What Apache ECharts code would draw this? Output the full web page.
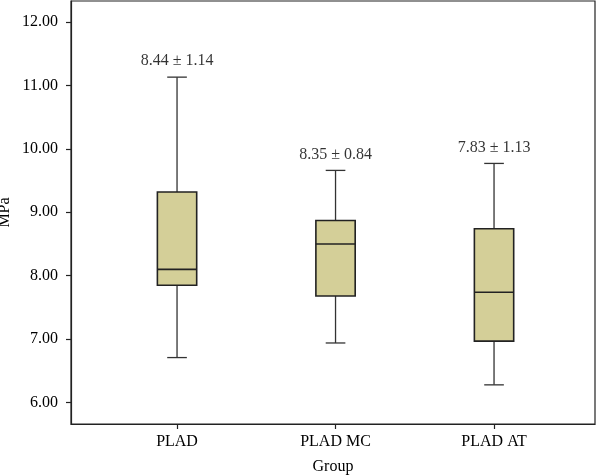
<!DOCTYPE html>
<html><head><meta charset="utf-8">
<script src="https://cdn.jsdelivr.net/npm/echarts@6/dist/echarts.min.js"></script>
<style>html,body{margin:0;padding:0;background:#fff}#c{width:600px;height:475px}</style>
</head><body><div id="c"></div>
<script>
const categories = ['PLAD', 'PLAD MC', 'PLAD AT'];
const whiskerLow = [6.71, 6.94, 6.28];
const q1 = [7.85, 7.68, 6.97];
const median = [8.10, 8.50, 7.74];
const q3 = [9.32, 8.87, 8.74];
const whiskerHigh = [11.13, 9.66, 9.77];
const annotations = ['8.44 \u00b1 1.14', '8.35 \u00b1 0.84', '7.83 \u00b1 1.13'];
const yTicks = [6, 7, 8, 9, 10, 11, 12];

const FONT = '"Liberation Serif", "DejaVu Serif", serif';
const boxData = categories.map((c, i) => [i + 1, whiskerLow[i], q1[i], median[i], q3[i], whiskerHigh[i]]);
const annData = categories.map((c, i) => [i + 1, whiskerHigh[i]]);

const chart = echarts.init(document.getElementById('c'), null, {renderer: 'canvas'});
chart.setOption({
  animation: false,
  backgroundColor: '#fff',
  grid: {left: 71, right: 5, top: 1, bottom: 51, containLabel: false, outerBoundsMode: 'none', show: true, borderColor: '#222', borderWidth: 1.2, backgroundColor: 'transparent'},
  xAxis: {
    type: 'value', min: 0.331, max: 3.637,
    splitLine: {show: false},
    axisLine: {show: true, lineStyle: {color: '#222', width: 1.2}},
    axisTick: {show: true, customValues: [1, 2, 3], length: 5, lineStyle: {color: '#222', width: 1.2}},
    axisLabel: {customValues: [1, 2, 3], formatter: v => categories[Math.round(v) - 1], fontFamily: FONT, fontSize: 16, color: '#000', margin: 10},
    name: 'Group', nameLocation: 'middle', nameGap: 35, nameMoveOverlap: false,
    nameTextStyle: {fontFamily: FONT, fontSize: 16, color: '#000'}
  },
  yAxis: {
    type: 'value', min: 5.663, max: 12.33,
    splitLine: {show: false},
    axisLine: {show: true, lineStyle: {color: '#222', width: 1.2}},
    axisTick: {show: true, customValues: yTicks, length: 5, lineStyle: {color: '#222', width: 1.2}},
    axisLabel: {customValues: yTicks, formatter: v => v.toFixed(2), fontFamily: FONT, fontSize: 16, color: '#000', margin: 13},
    name: 'MPa', nameLocation: 'middle', nameGap: 58, nameRotate: 90, nameMoveOverlap: false,
    nameTextStyle: {fontFamily: FONT, fontSize: 16, color: '#000'}
  },
  series: [{
    type: 'custom',
    data: boxData,
    encode: {x: 0, y: [1, 2, 3, 4, 5]},
    renderItem: function (params, api) {
      const x = api.value(0);
      const pLow = api.coord([x, api.value(1)]);
      const pQ1 = api.coord([x, api.value(2)]);
      const pMed = api.coord([x, api.value(3)]);
      const pQ3 = api.coord([x, api.value(4)]);
      const pHigh = api.coord([x, api.value(5)]);
      const unit = api.size([1, 0])[0];
      const bw = unit * 0.248;
      const cw = bw * 0.5;
      const cx = pMed[0];
      const wStyle = {stroke: '#333', lineWidth: 1.3};
      const bStyle = {stroke: '#222', lineWidth: 1.6};
      return {type: 'group', children: [
        {type: 'line', shape: {x1: cx, y1: pQ3[1], x2: cx, y2: pHigh[1]}, style: wStyle},
        {type: 'line', shape: {x1: cx, y1: pQ1[1], x2: cx, y2: pLow[1]}, style: wStyle},
        {type: 'line', shape: {x1: cx - cw / 2, y1: pHigh[1], x2: cx + cw / 2, y2: pHigh[1]}, style: wStyle},
        {type: 'line', shape: {x1: cx - cw / 2, y1: pLow[1], x2: cx + cw / 2, y2: pLow[1]}, style: wStyle},
        {type: 'rect', shape: {x: cx - bw / 2, y: pQ3[1], width: bw, height: pQ1[1] - pQ3[1]}, style: {fill: '#D4CF98', stroke: '#222', lineWidth: 1.6}},
        {type: 'line', shape: {x1: cx - bw / 2, y1: pMed[1], x2: cx + bw / 2, y2: pMed[1]}, style: bStyle}
      ]};
    }
  }, {
    type: 'scatter',
    data: annData,
    symbolSize: 0,
    silent: true,
    label: {
      show: true, position: 'top', distance: 8,
      formatter: p => annotations[p.dataIndex],
      fontFamily: FONT, fontSize: 16, color: '#000'
    }
  }]
});
</script></body></html>
